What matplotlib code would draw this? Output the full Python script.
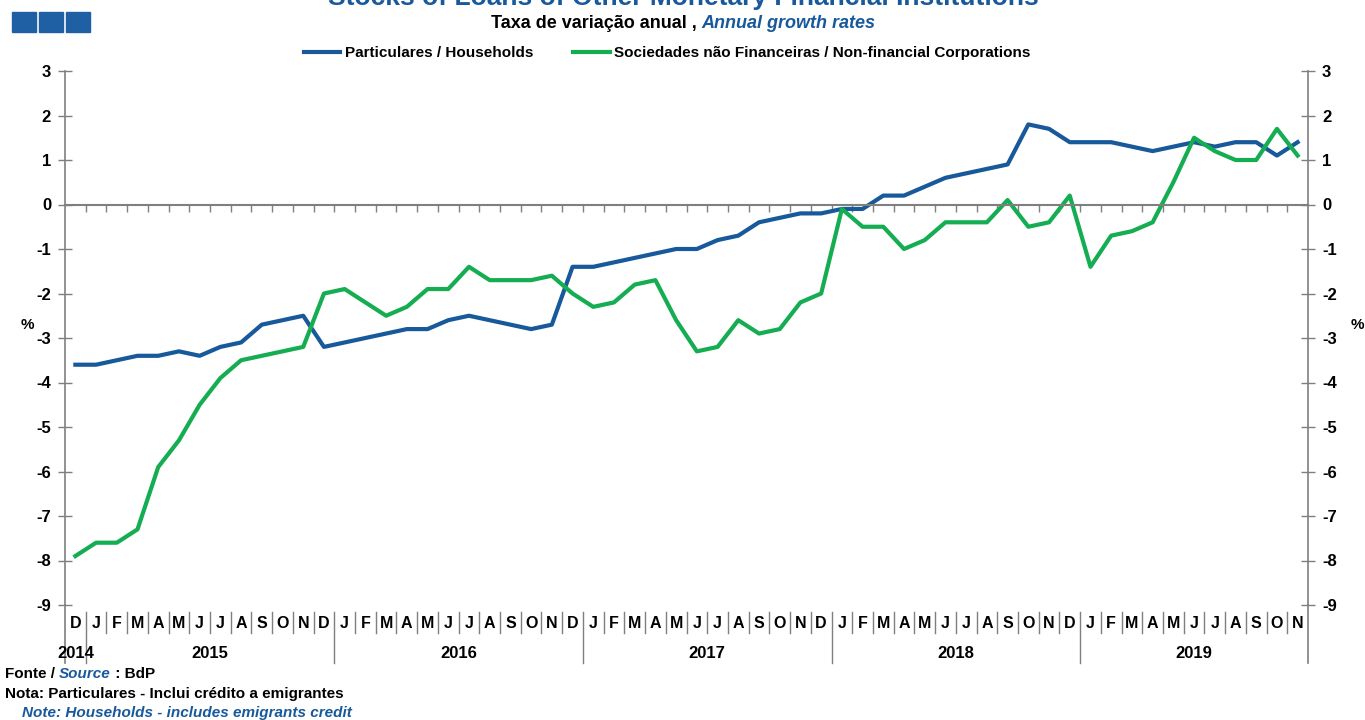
import numpy as np
import matplotlib
matplotlib.use("Agg")
import matplotlib.pyplot as plt
import matplotlib.transforms as mtransforms
from matplotlib.lines import Line2D
from matplotlib.patches import Rectangle

plt.rcParams['font.family'] = ['Liberation Sans', 'DejaVu Sans']
plt.rcParams['axes.unicode_minus'] = False

# Dec 2014 .. Nov 2019, annual growth rates (%)
month_letters = ['D'] + list('JFMAMJJASOND') * 4 + list('JFMAMJJASON')
years = ['2014', '2015', '2016', '2017', '2018', '2019']
year_centers = [0, 6.5, 18.5, 30.5, 42.5, 54]
year_breaks = [0.5, 12.5, 24.5, 36.5, 48.5]

households = [-3.6, -3.6, -3.5, -3.4, -3.4, -3.3, -3.4, -3.2, -3.1, -2.7, -2.6, -2.5,
              -3.2, -3.1, -3.0, -2.9, -2.8, -2.8, -2.6, -2.5, -2.6, -2.7, -2.8, -2.7,
              -1.4, -1.4, -1.3, -1.2, -1.1, -1.0, -1.0, -0.8, -0.7, -0.4, -0.3, -0.2,
              -0.2, -0.1, -0.1, 0.2, 0.2, 0.4, 0.6, 0.7, 0.8, 0.9, 1.8, 1.7,
              1.4, 1.4, 1.4, 1.3, 1.2, 1.3, 1.4, 1.3, 1.4, 1.4, 1.1, 1.4]
corporations = [-7.9, -7.6, -7.6, -7.3, -5.9, -5.3, -4.5, -3.9, -3.5, -3.4, -3.3, -3.2,
                -2.0, -1.9, -2.2, -2.5, -2.3, -1.9, -1.9, -1.4, -1.7, -1.7, -1.7, -1.6,
                -2.0, -2.3, -2.2, -1.8, -1.7, -2.6, -3.3, -3.2, -2.6, -2.9, -2.8, -2.2,
                -2.0, -0.1, -0.5, -0.5, -1.0, -0.8, -0.4, -0.4, -0.4, 0.1, -0.5, -0.4,
                0.2, -1.4, -0.7, -0.6, -0.4, 0.5, 1.5, 1.2, 1.0, 1.0, 1.7, 1.1]

blue = '#17599b'
green = '#14ad52'
grey = '#7f7f7f'

W, H = 1365, 720
fig = plt.figure(figsize=(W / 100, H / 100), dpi=100)
ax = fig.add_axes([65 / W, 1 - 605 / H, (1308 - 65) / W, (605 - 71) / H])

x = np.arange(len(households))
ax.plot(x, households, color=blue, lw=3, solid_joinstyle='round')
ax.plot(x, corporations, color=green, lw=3, solid_joinstyle='round')

ax.set_xlim(-0.5, len(x) - 0.5)
ax.set_ylim(-9, 3)
ax.set_yticks(range(-9, 4))
ax.set_yticklabels([str(v) for v in range(-9, 4)])
ax.tick_params(axis='y', direction='inout', length=10, width=1, color=grey,
               labelsize=12, labelright=True, right=True, pad=5)
for lab in ax.get_yticklabels() + ax.get_yticklabels(which='major'):
    lab.set_fontweight('bold')
for lab in ax.yaxis.get_ticklabels(which='both'):
    lab.set_fontweight('bold')
for t in ax.yaxis.get_major_ticks():
    t.label2.set_fontweight('bold')

ax.spines['top'].set_visible(False)
ax.spines['bottom'].set_position(('data', 0))
ax.spines['bottom'].set_color(grey)
ax.spines['bottom'].set_linewidth(1.5)
for s in ('left', 'right'):
    ax.spines[s].set_color(grey)
    ax.spines[s].set_linewidth(1.2)
ax.set_xticks(np.arange(0.5, len(x) - 1, 1))
ax.tick_params(axis='x', direction='out', length=5, width=1, color=grey, labelbottom=False)

# category labels under the plot
trans = mtransforms.blended_transform_factory(ax.transData, ax.transAxes)
for i, m in enumerate(month_letters):
    ax.text(i, -0.034, m, transform=trans, ha='center', va='center',
            fontsize=11.5, fontweight='bold')
for xc, yr in zip(year_centers, years):
    ax.text(xc, -0.09, yr, transform=trans, ha='center', va='center',
            fontsize=12, fontweight='bold')
for b in np.arange(0.5, len(x) - 1, 1):
    y0 = -0.109 if b in year_breaks else -0.052
    ax.add_line(Line2D([b, b], [-0.013, y0], transform=trans, color=grey,
                       lw=1, clip_on=False))
for b in (-0.5, len(x) - 0.5):
    ax.add_line(Line2D([b, b], [0, -0.109], transform=trans, color=grey,
                       lw=1.2, clip_on=False))

fig.text(27 / W, 1 - 325 / H, '%', ha='center', va='center', fontsize=11,
         fontweight='bold')
fig.text(1357 / W, 1 - 325 / H, '%', ha='center', va='center', fontsize=11,
         fontweight='bold')

# header
for k in range(3):
    fig.patches.append(Rectangle(((12 + k * 27) / W, 1 - 32 / H), 24 / W, 20 / H,
                                 transform=fig.transFigure, color='#1f5fa3'))
fig.text(683 / W, 1 - 5 / H, 'Stocks of Loans of Other Monetary Financial Institutions',
         ha='center', va='baseline', fontsize=19, fontweight='bold', color=blue)
t1 = fig.text(683 / W, 1 - 23 / H, 'Taxa de variação anual , ', ha='right', va='center',
              fontsize=13, fontweight='bold')
fig.canvas.draw()
r = fig.canvas.get_renderer()
w1 = t1.get_window_extent(r).width
t2 = fig.text(683 / W, 1 - 23 / H, 'Annual growth rates', ha='left', va='center',
              fontsize=13, fontweight='bold', style='italic', color=blue)
w2 = t2.get_window_extent(r).width
shift = (w1 - w2) / 2 / W
t1.set_x(683 / W + shift)
t2.set_x(683 / W + shift)

handles = [Line2D([], [], color=blue, lw=3), Line2D([], [], color=green, lw=3)]
fig.legend(handles, ['Particulares / Households',
                     'Sociedades não Financeiras / Non-financial Corporations'],
           loc='center', bbox_to_anchor=(667 / W, 1 - 53 / H), ncol=2, frameon=False,
           handlelength=2.4, handletextpad=0.3, columnspacing=2.6,
           prop={'size': 11, 'weight': 'bold'})

# footer
f1 = fig.text(5 / W, 1 - 674 / H, 'Fonte / ', ha='left', va='center', fontsize=11,
              fontweight='bold')
fx = 5 + f1.get_window_extent(r).width
f2 = fig.text(fx / W, 1 - 674 / H, 'Source', ha='left', va='center', fontsize=11,
              fontweight='bold', style='italic', color=blue)
fx += f2.get_window_extent(r).width
fig.text(fx / W, 1 - 674 / H, ' : BdP', ha='left', va='center', fontsize=11,
         fontweight='bold')
fig.text(5 / W, 1 - 694 / H, 'Nota: Particulares - Inclui crédito a emigrantes',
         ha='left', va='center', fontsize=11, fontweight='bold')
fig.text(22 / W, 1 - 713 / H, 'Note: Households - includes emigrants credit',
         ha='left', va='center', fontsize=11, fontweight='bold', style='italic',
         color=blue)

fig.savefig('out.png', dpi=100)
